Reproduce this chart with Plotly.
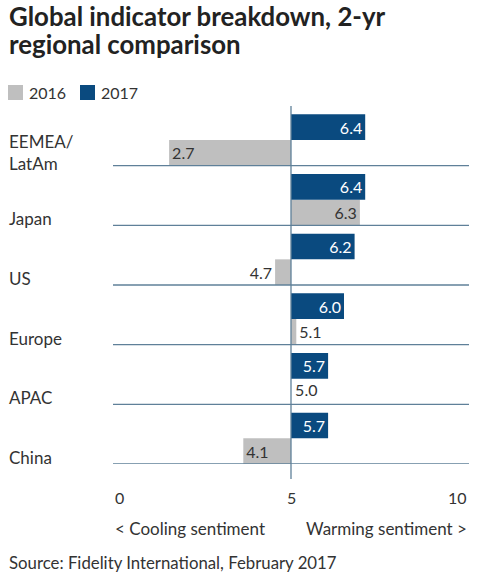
import plotly.graph_objects as go

# ---- data ----
categories = ["EEMEA/<br>LatAm", "Japan", "US", "Europe", "APAC", "China"]
values_2016 = [2.7, 6.3, 4.7, 5.1, 5.0, 4.1]
values_2017 = [6.4, 6.4, 6.2, 6.0, 5.7, 5.7]
series_names = ["2016", "2017"]
neutral = 5.0
tick_labels = ["0", "5", "10"]
axis_notes = ["< Cooling sentiment", "Warming sentiment >"]
title_lines = ["Global indicator breakdown, 2-yr", "regional comparison"]
source_text = "Source: Fidelity International, February 2017"

# ---- style ----
W, H = 489, 580
ML, MR, MT, MB = 113, 20, 106, 116
PW, PH = W - ML - MR, H - MT - MB
FONT = "Lato"
TXT = "#333333"
BLUE = "#0a4a7f"
GRAY = "#bfbfbf"
LINE = "#5f8099"
colors = [GRAY, BLUE]


def px_x(p):
    return (p - ML) / PW


def px_y(p):
    return (H - MB - p) / PH


pos = list(range(len(categories)))
G_OFF, B_OFF, BW = 0.07, -0.36, 0.43

fig = go.Figure()
fig.add_trace(go.Bar(
    name=series_names[0], y=pos, x=[v - neutral for v in values_2016],
    base=neutral, orientation="h", marker_color=GRAY, marker_line_width=0,
    offset=G_OFF, width=BW,
    text=[f"{v:.1f}" for v in values_2016], textposition="auto",
    insidetextanchor="end", constraintext="none",
    insidetextfont=dict(family=FONT, size=16, color=TXT),
    outsidetextfont=dict(family=FONT, size=16, color=TXT),
    cliponaxis=False, showlegend=False,
))
fig.add_trace(go.Bar(
    name=series_names[1], y=pos, x=[v - neutral for v in values_2017],
    base=neutral, orientation="h", marker_color=BLUE, marker_line_width=0,
    offset=B_OFF, width=BW,
    text=[f"{v:.1f}" for v in values_2017], textposition="auto",
    insidetextanchor="end", constraintext="none",
    insidetextfont=dict(family=FONT, size=16, color="white"),
    outsidetextfont=dict(family=FONT, size=16, color=TXT),
    cliponaxis=False, showlegend=False,
))
# labels for zero-length bars (Plotly draws no text on them)
zero_idx = [i for i, v in enumerate(values_2016) if v == neutral]
fig.add_trace(go.Scatter(
    x=[values_2016[i] for i in zero_idx],
    y=[pos[i] + G_OFF + BW / 2 for i in zero_idx],
    mode="text", text=[f"{values_2016[i]:.1f}" for i in zero_idx],
    texttemplate=" %{text}",
    textposition="middle right",
    textfont=dict(family=FONT, size=16, color=TXT),
    showlegend=False, hoverinfo="skip", cliponaxis=False,
))

shapes = []
for i in pos:
    shapes.append(dict(type="line", xref="paper", x0=0, x1=1, yref="y",
                       y0=i + 0.5, y1=i + 0.5, line=dict(color=LINE, width=1.3),
                       layer="above"))
shapes.append(dict(type="line", xref="x", x0=neutral, x1=neutral, yref="paper",
                   y0=px_y(479), y1=px_y(106), line=dict(color=LINE, width=1.3),
                   layer="above"))

ann = []
# title
for line, top in zip(title_lines, [-1.5, 26.5]):
    ann.append(dict(text=f"<b>{line}</b>", xref="paper", yref="paper",
                    x=px_x(7), y=px_y(top), xanchor="left", yanchor="top", align="left",
                    showarrow=False, font=dict(family=FONT, size=25.8, color="#222222")))
# legend (manual)
leg_x = [8, 80]
for name, c, lx in zip(series_names, colors, leg_x):
    shapes.append(dict(type="rect", xref="paper", yref="paper",
                       x0=px_x(lx), x1=px_x(lx + 15), y0=px_y(100), y1=px_y(85),
                       fillcolor=c, line=dict(width=0)))
    ann.append(dict(text=name, xref="paper", yref="paper", x=px_x(lx + 19), y=px_y(93),
                    xanchor="left", yanchor="middle", showarrow=False,
                    font=dict(family=FONT, size=16, color=TXT)))
# category labels
for i, c in zip(pos, categories):
    multi = "<br>" in c
    ann.append(dict(text=c, xref="paper", yref="y", x=px_x(7), y=i + 0.5,
                    xanchor="left", yanchor="bottom", yshift=-10 if multi else -6,
                    align="left", showarrow=False,
                    font=dict(family=FONT, size=17, color=TXT)))
ty = px_y(497)
ann.append(dict(text=tick_labels[0], xref="paper", yref="paper", x=0, y=ty,
                xanchor="left", yanchor="middle", showarrow=False,
                font=dict(family=FONT, size=16, color=TXT)))
ann.append(dict(text=tick_labels[1], xref="x", yref="paper", x=neutral, y=ty,
                xanchor="center", yanchor="middle", showarrow=False,
                font=dict(family=FONT, size=16, color=TXT)))
ann.append(dict(text=tick_labels[2], xref="paper", yref="paper", x=1, y=ty,
                xanchor="right", yanchor="middle", showarrow=False,
                font=dict(family=FONT, size=16, color=TXT)))
sy = px_y(528)
ann.append(dict(text=axis_notes[0], xref="paper", yref="paper", x=0, y=sy,
                xanchor="left", yanchor="middle", showarrow=False,
                font=dict(family=FONT, size=17, color=TXT)))
ann.append(dict(text=axis_notes[1], xref="paper", yref="paper", x=1, y=sy,
                xanchor="right", yanchor="middle", showarrow=False,
                font=dict(family=FONT, size=17, color=TXT)))
ann.append(dict(text=source_text, xref="paper", yref="paper", x=px_x(7), y=px_y(562),
                xanchor="left", yanchor="middle", showarrow=False,
                font=dict(family=FONT, size=16.8, color=TXT)))

fig.update_layout(
    width=W, height=H,
    margin=dict(l=ML, r=MR, t=MT, b=MB, autoexpand=False),
    paper_bgcolor="white", plot_bgcolor="white",
    barmode="overlay",
    showlegend=False,
    xaxis=dict(range=[neutral - 178 / 53, neutral + 178 / 53], showgrid=False,
               zeroline=False, showticklabels=False, fixedrange=True),
    yaxis=dict(range=[len(categories) - 0.5, -0.5], showgrid=False, zeroline=False,
               showticklabels=False, fixedrange=True),
    shapes=shapes, annotations=ann,
)
fig.write_html("out.html")
